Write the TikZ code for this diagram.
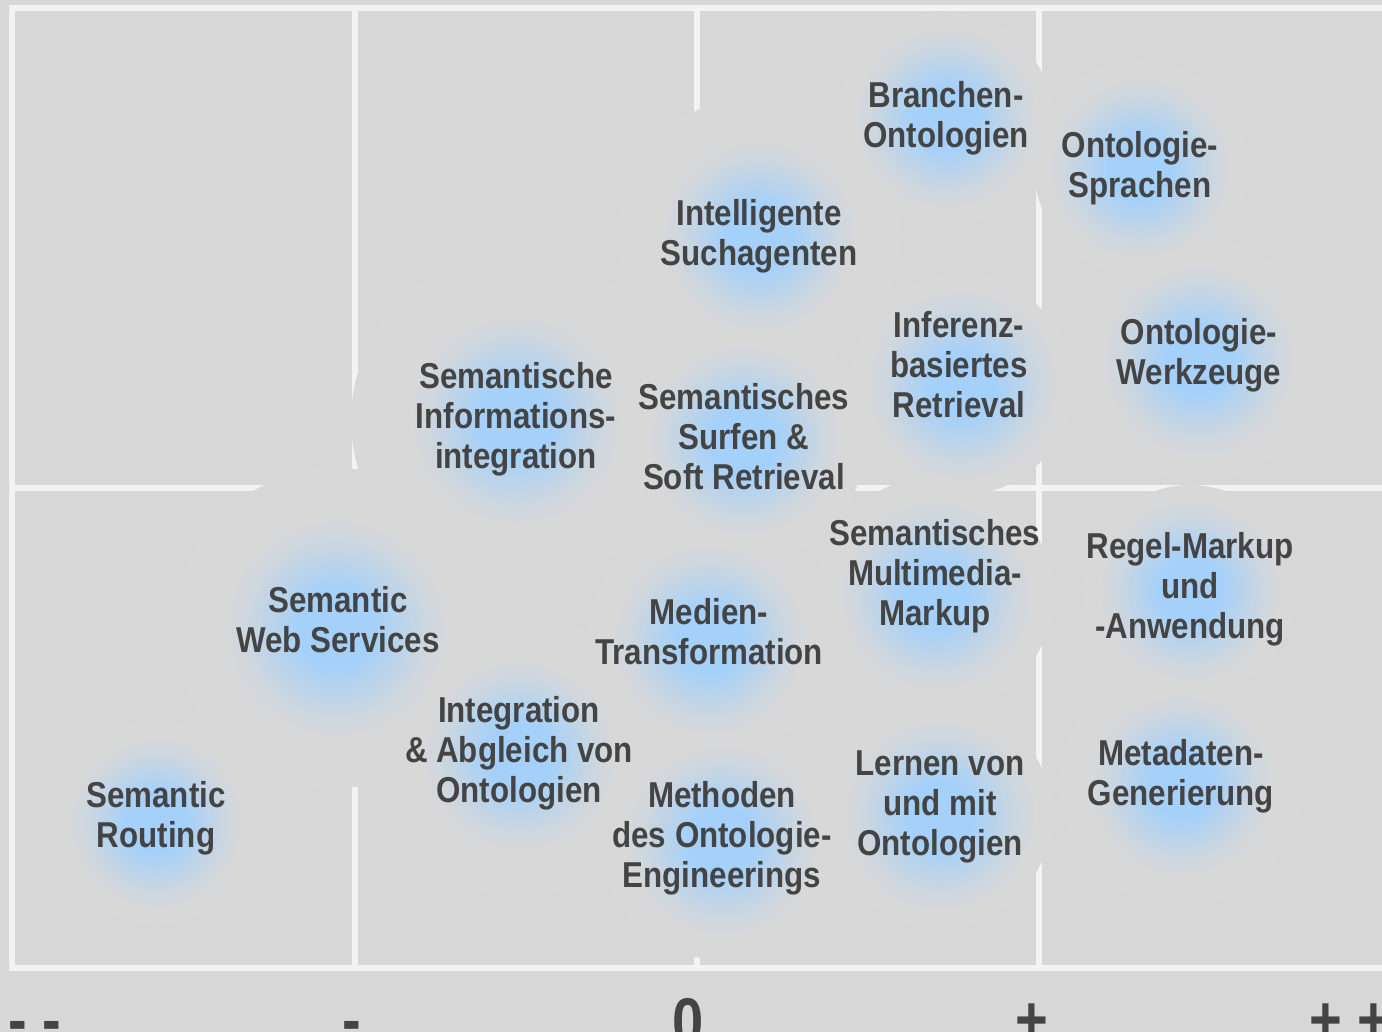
\documentclass[tikz,border=0pt]{standalone}
\usepackage{fontspec}
\setmainfont{Liberation Sans}[FakeStretch=0.87]
\newfontfamily\axisfont{Liberation Sans}[FakeStretch=0.85]
\definecolor{bgc}{HTML}{D7D7D7}
\definecolor{haloc}{HTML}{D8D8D8}
\definecolor{gridc}{HTML}{F3F3F3}
\definecolor{glowblue}{HTML}{A4D0FA}
\definecolor{txtc}{HTML}{444444}
\colorlet{glowmid}{glowblue!50!haloc}
\colorlet{glowlow}{glowblue!18!haloc}
\pgfdeclareradialshading{glowshade}{\pgfpoint{0bp}{0bp}}{color(0bp)=(glowblue); color(8bp)=(glowblue); color(15bp)=(glowmid); color(20bp)=(glowlow); color(25bp)=(haloc); color(50bp)=(haloc)}
\begin{document}
\begin{tikzpicture}[x=1pt,y=-1pt,
  lbl/.style={align=center, text=txtc, font=\bfseries\fontsize{36}{40}\selectfont, inner sep=0pt},
  axl/.style={anchor=base, text=txtc, font=\axisfont\bfseries\fontsize{66}{70}\selectfont, inner sep=0pt},
  gridline/.style={draw=gridc, line width=6pt},
  halo/.style={fill=haloc},
  glowdisc/.style={shading=glowshade}]
\useasboundingbox (0,0) rectangle (1382,1032);
\clip (0,0) rectangle (1382,1032);
\fill[bgc] (0,0) rectangle (1382,1032);
% grid
\draw[gridline, line join=miter] (1392,8.5) -- (12,8.5) -- (12,968) -- (1392,968);
\draw[gridline] (12,488) -- (1392,488);
\foreach \gx in {355,697,1039} \draw[gridline] (\gx,8.5) -- (\gx,968);
% halos hiding the grid lines
\foreach \cx/\cy/\rr in {946/118/106, 1140/168/106, 759/236/140, 962/385/110, 1199/360/120,
  516/420/165, 744/440/122, 935/595/118, 1190/590/105, 336/628/160, 709/640/120,
  519/755/140, 722/840/120, 940/815/112, 1181/785/120, 156/823/100}
  \fill[halo] (\cx,\cy) circle [radius=\rr pt];
% blue glows
\foreach \cx/\cy/\rc in {946/118/95, 1140/168/95, 759/236/100, 962/385/100, 1199/360/100,
  516/420/110, 744/440/100, 935/595/100, 1190/590/95, 336/628/115, 709/640/100,
  519/755/100, 722/840/100, 940/815/100, 1181/785/95, 156/823/90}
  \shade[glowdisc] (\cx,\cy) circle [radius=\rc pt];
% labels
\node[lbl] (branchen) at (946,118) {Branchen-\\Ontologien};
\node[lbl] (sprachen) at (1140,168) {Ontologie-\\Sprachen};
\node[lbl] (such) at (759,236) {Intelligente\\Suchagenten};
\node[lbl] (inferenz) at (959,365) {Inferenz-\\basiertes\\Retrieval};
\node[lbl] (werkzeuge) at (1199,355) {Ontologie-\\Werkzeuge};
\node[lbl] (infoint) at (516,419) {Semantische\\Informations-\\integration};
\node[lbl] (surfen) at (744,437) {Semantisches\\Surfen \&\\Soft Retrieval};
\node[lbl] (multimedia) at (935,576) {Semantisches\\Multimedia-\\Markup};
\node[lbl] (regel) at (1190,589) {Regel-Markup\\und\\-Anwendung};
\node[lbl] (webservices) at (338,620) {Semantic\\Web Services};
\node[lbl] (medien) at (709,632) {Medien-\\Transformation};
\node[lbl] (abgleich) at (519,753) {Integration\\\& Abgleich von\\Ontologien};
\node[lbl] (methoden) at (722,838) {Methoden\\des Ontologie-\\Engineerings};
\node[lbl] (lernen) at (940,807) {Lernen von\\und mit\\Ontologien};
\node[lbl] (metadaten) at (1181,776) {Metadaten-\\Generierung};
\node[lbl] (routing) at (156,818) {Semantic\\Routing};
% axis labels
\node[axl] (axmm) at (35,1042) {- -};
\node[axl] (axm) at (352,1042) {-};
\node[axl] (axz) at (688,1044) {0};
\node[axl] (axp) at (1032,1042) {+};
\node[axl] (axpp) at (1350,1042) {+ +};
\end{tikzpicture}
\end{document}
